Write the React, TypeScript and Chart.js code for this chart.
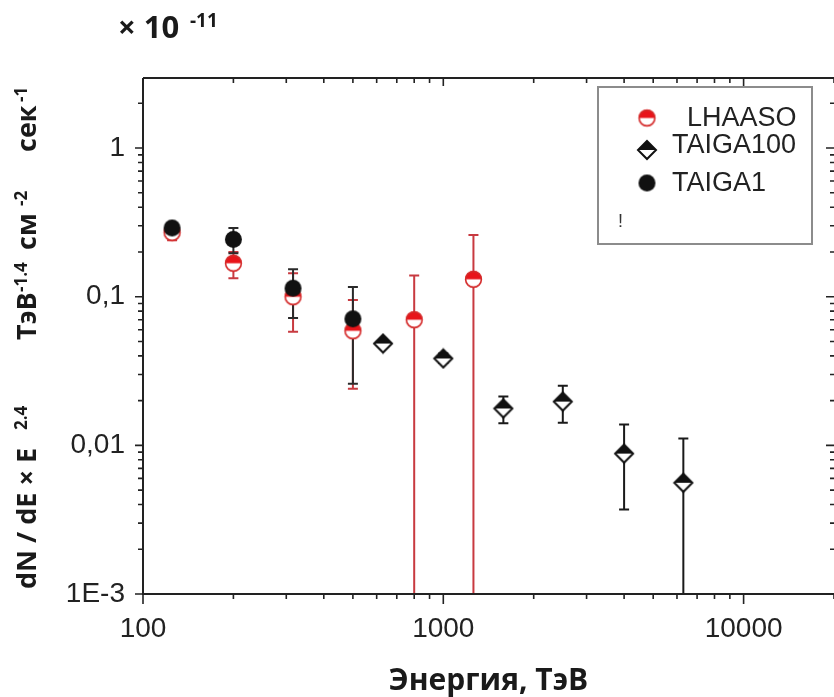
import React, { useEffect, useRef } from "react";
import { Chart, registerables } from "chart.js";

Chart.register(...registerables);

// ---------- data ----------
const lhaasoEnergy = [125, 200, 316, 500, 800, 1260];
const lhaasoFlux = [0.27, 0.168, 0.1, 0.059, 0.07, 0.131];
const lhaasoLow = [0.24, 0.133, 0.058, 0.024, 0.0001, 0.0001];
const lhaasoHigh = [0.3, 0.2, 0.144, 0.095, 0.139, 0.26];

const taiga100Energy = [630, 1000, 1585, 2500, 4000, 6300];
const taiga100Flux = [0.0484, 0.0384, 0.0177, 0.0197, 0.0088, 0.0056];
const taiga100Low = [0.046, 0.0358, 0.0141, 0.0142, 0.0037, 0.0001];
const taiga100High = [0.051, 0.0415, 0.0213, 0.0252, 0.0138, 0.0111];

const taiga1Energy = [125, 200, 316, 500];
const taiga1Flux = [0.29, 0.243, 0.114, 0.071];
const taiga1Low = [0.27, 0.196, 0.072, 0.026];
const taiga1High = [0.31, 0.29, 0.153, 0.116];

const seriesNames = ["LHAASO", "TAIGA100", "TAIGA1"];

const xMajorTicks = [100, 1000, 10000];
const xTickLabels = ["100", "1000", "10000"];
const yMajorTicks = [0.001, 0.01, 0.1, 1];
const yTickLabels = ["1E-3", "0,01", "0,1", "1"];

const xTitle = "Энергия, ТэВ";
const yTitleParts = [
  { t: "dN / dE × E", sup: false, at: 589 },
  { t: "2.4", sup: true, at: 430 },
  { t: "ТэВ", sup: false, at: 340 },
  { t: "-1.4", sup: true, at: 292 },
  { t: "см", sup: false, at: 250 },
  { t: "-2", sup: true, at: 206 },
  { t: "сек", sup: false, at: 152 },
  { t: "-1", sup: true, at: 102 },
];
const multiplierBase = "× 10";
const multiplierExp = "-11";

const X_MIN = 100;
const X_MAX = 20000;
const Y_MIN = 0.001;
const Y_MAX = 2.96;

// ---------- helpers ----------
const RED = "#e8141a";
const RED_BAR = "#c83a40";
const BLACK = "#111111";
const AXIS = "#222222";
const SANS = "'Liberation Sans', Arial, sans-serif";
const BOLD = "'Open Sans', 'Liberation Sans', sans-serif";

function makeHalfCircle(r: number) {
  const size = Math.ceil(2 * r + 4);
  const c = document.createElement("canvas");
  c.width = size;
  c.height = size;
  const g = c.getContext("2d")!;
  const cx = size / 2, cy = size / 2;
  g.beginPath();
  g.arc(cx, cy, r, 0, Math.PI * 2);
  g.fillStyle = "#ffffff";
  g.fill();
  g.beginPath();
  g.arc(cx, cy, r, Math.PI, Math.PI * 2);
  g.closePath();
  g.fillStyle = RED;
  g.fill();
  g.beginPath();
  g.arc(cx, cy, r - 0.6, 0, Math.PI * 2);
  g.lineWidth = 1.6;
  g.strokeStyle = "#d42a2a";
  g.stroke();
  return c;
}

function makeHalfDiamond(h: number) {
  const size = Math.ceil(2 * h + 4);
  const c = document.createElement("canvas");
  c.width = size;
  c.height = size;
  const g = c.getContext("2d")!;
  const cx = size / 2, cy = size / 2;
  g.beginPath();
  g.moveTo(cx, cy - h);
  g.lineTo(cx + h, cy);
  g.lineTo(cx, cy + h);
  g.lineTo(cx - h, cy);
  g.closePath();
  g.fillStyle = "#ffffff";
  g.fill();
  g.beginPath();
  g.moveTo(cx, cy - h);
  g.lineTo(cx + h, cy);
  g.lineTo(cx - h, cy);
  g.closePath();
  g.fillStyle = BLACK;
  g.fill();
  g.beginPath();
  g.moveTo(cx, cy - h);
  g.lineTo(cx + h, cy);
  g.lineTo(cx, cy + h);
  g.lineTo(cx - h, cy);
  g.closePath();
  g.lineWidth = 2;
  g.lineJoin = "miter";
  g.strokeStyle = BLACK;
  g.stroke();
  return c;
}

function makeDot(r: number) {
  const size = Math.ceil(2 * r + 4);
  const c = document.createElement("canvas");
  c.width = size;
  c.height = size;
  const g = c.getContext("2d")!;
  g.beginPath();
  g.arc(size / 2, size / 2, r, 0, Math.PI * 2);
  g.fillStyle = BLACK;
  g.fill();
  return c;
}

function logTicks(min: number, max: number) {
  const out: { value: number; major: boolean }[] = [];
  const e0 = Math.floor(Math.log10(min));
  const e1 = Math.ceil(Math.log10(max));
  for (let e = e0; e <= e1; e++) {
    for (let m = 1; m <= 9; m++) {
      const v = m * Math.pow(10, e);
      if (v >= min * 0.999 && v <= max * 1.001) out.push({ value: v, major: m === 1 });
    }
  }
  return out;
}

function pts(xs: number[], ys: number[]) {
  return xs.map((x, i) => ({ x, y: ys[i] }));
}

// ---------- plugins ----------
const errorBarPlugin = {
  id: "errorBars",
  beforeDatasetsDraw(chart: any) {
    const { ctx, chartArea: a, scales } = chart;
    const xs = scales.x, ys = scales.y;
    ctx.save();
    ctx.beginPath();
    ctx.rect(a.left, a.top, a.right - a.left, a.bottom - a.top);
    ctx.clip();
    [0, 1, 2].forEach((di) => {
      const ds = chart.data.datasets[di];
      ctx.strokeStyle = ds.barColor;
      ctx.lineWidth = 2;
      ds.data.forEach((p: any, i: number) => {
        const px = xs.getPixelForValue(p.x);
        const yl = ys.getPixelForValue(ds.errLow[i]);
        const yh = ys.getPixelForValue(ds.errHigh[i]);
        const cw = 5;
        ctx.beginPath();
        ctx.moveTo(px, yl);
        ctx.lineTo(px, yh);
        ctx.moveTo(px - cw, yh);
        ctx.lineTo(px + cw, yh);
        ctx.moveTo(px - cw, yl);
        ctx.lineTo(px + cw, yl);
        ctx.stroke();
      });
    });
    ctx.restore();
  },
};

const framePlugin = {
  id: "frame",
  afterDatasetsDraw(chart: any) {
    const { ctx, chartArea: a, scales } = chart;
    const xs = scales.x, ys = scales.y;
    ctx.save();
    ctx.strokeStyle = AXIS;
    ctx.lineWidth = 2;
    ctx.beginPath();
    ctx.moveTo(a.left, a.top);
    ctx.lineTo(a.right + 2, a.top);
    ctx.moveTo(a.left, a.top);
    ctx.lineTo(a.left, a.bottom);
    ctx.lineTo(a.right + 2, a.bottom);
    ctx.stroke();
    ctx.lineWidth = 1.6;
    ctx.beginPath();
    xs.ticks.forEach((t: any) => {
      const px = xs.getPixelForValue(t.value);
      const lb = t.major ? 10 : 5;
      const lt = t.major ? 8 : 5;
      ctx.moveTo(px, a.bottom);
      ctx.lineTo(px, a.bottom + lb);
      ctx.moveTo(px, a.top);
      ctx.lineTo(px, a.top + lt);
    });
    ys.ticks.forEach((t: any) => {
      const py = ys.getPixelForValue(t.value);
      const ll = t.major ? 8 : 5;
      const lr = t.major ? 8 : 4;
      ctx.moveTo(a.left, py);
      ctx.lineTo(a.left - ll, py);
      ctx.moveTo(a.right, py);
      ctx.lineTo(a.right - lr, py);
    });
    ctx.stroke();
    ctx.restore();
  },
};

const textPlugin = {
  id: "texts",
  afterDraw(chart: any) {
    const { ctx, chartArea: a } = chart;
    ctx.save();
    ctx.fillStyle = "#1a1a1a";
    // multiplier
    ctx.textBaseline = "alphabetic";
    ctx.textAlign = "left";
    ctx.font = `bold 31px ${BOLD}`;
    ctx.fillText(multiplierBase, 118, 38);
    ctx.font = `bold 19px ${BOLD}`;
    ctx.fillText(multiplierExp, 190, 27);
    // x title
    ctx.font = `bold 30px ${BOLD}`;
    ctx.textAlign = "center";
    ctx.fillText(xTitle, (a.left + a.right) / 2, 690);
    // y title
    ctx.textAlign = "left";
    yTitleParts.forEach((p) => {
      ctx.save();
      ctx.translate(p.sup ? 27 : 36, p.at);
      ctx.rotate(-Math.PI / 2);
      ctx.font = p.sup ? `bold 17px ${BOLD}` : `bold 27px ${BOLD}`;
      ctx.fillText(p.t, 0, 0);
      ctx.restore();
    });
    // legend
    const lx = 598, ly = 87, lw = 214, lh = 157;
    ctx.fillStyle = "#ffffff";
    ctx.fillRect(lx, ly, lw, lh);
    ctx.strokeStyle = "#8c8c8c";
    ctx.lineWidth = 2;
    ctx.strokeRect(lx, ly, lw, lh);
    const imgs = chart.data.datasets.map((d: any) => d.pointStyle);
    const rows = [
      { i: 0, my: 118, tx: 687, ty: 119 },
      { i: 1, my: 150, tx: 672, ty: 146 },
      { i: 2, my: 183, tx: 672, ty: 184 },
    ];
    ctx.font = `27px ${SANS}`;
    ctx.textAlign = "left";
    ctx.textBaseline = "middle";
    rows.forEach((r) => {
      const im = imgs[r.i];
      ctx.drawImage(im, 647 - im.width / 2, r.my - im.height / 2);
      ctx.fillStyle = "#222222";
      ctx.fillText(chart.data.datasets[r.i].label, r.tx, r.ty);
    });
    ctx.font = `18px ${SANS}`;
    ctx.fillStyle = "#333333";
    ctx.fillText("!", 618, 222);
    ctx.restore();
  },
};

export default function App() {
  const ref = useRef<HTMLCanvasElement | null>(null);
  useEffect(() => {
    if (!ref.current) return;
    const halfCircle = makeHalfCircle(8.5);
    const halfDiamond = makeHalfDiamond(9);
    const dot = makeDot(8.5);
    const xt = logTicks(X_MIN, X_MAX);
    const yt = logTicks(Y_MIN, Y_MAX);
    const chart = new Chart(ref.current, {
      type: "scatter",
      data: {
        datasets: [
          {
            label: seriesNames[0],
            data: pts(lhaasoEnergy, lhaasoFlux),
            pointStyle: halfCircle,
            pointRadius: 8,
            order: 2,
            errLow: lhaasoLow,
            errHigh: lhaasoHigh,
            barColor: RED_BAR,
          } as any,
          {
            label: seriesNames[1],
            data: pts(taiga100Energy, taiga100Flux),
            pointStyle: halfDiamond,
            pointRadius: 9,
            order: 1,
            errLow: taiga100Low,
            errHigh: taiga100High,
            barColor: "#1a1a1a",
          } as any,
          {
            label: seriesNames[2],
            data: pts(taiga1Energy, taiga1Flux),
            pointStyle: dot,
            pointRadius: 8,
            order: 0,
            errLow: taiga1Low,
            errHigh: taiga1High,
            barColor: "#2a2a2a",
          } as any,
        ],
      },
      options: {
        responsive: false,
        animation: false,
        devicePixelRatio: 1,
        layout: { autoPadding: false, padding: { top: 78, left: 0, right: 0, bottom: 0 } },
        plugins: { legend: { display: false }, tooltip: { enabled: false }, title: { display: false } },
        scales: {
          x: {
            type: "logarithmic",
            min: X_MIN,
            max: X_MAX,
            offset: false,
            grid: { display: false, drawTicks: false },
            border: { display: false },
            afterBuildTicks: (s: any) => {
              s.ticks = xt.map((t) => ({ ...t }));
            },
            afterFit: (s: any) => {
              s.height = 103;
              s.paddingLeft = 0;
              s.paddingRight = 0;
            },
            ticks: {
              autoSkip: false,
              maxRotation: 0,
              minRotation: 0,
              padding: 18,
              color: "#222222",
              font: { family: SANS, size: 28 },
              callback: (v: any) => {
                const k = xMajorTicks.findIndex((m) => Math.abs(m - v) / m < 1e-6);
                return k >= 0 ? xTickLabels[k] : "";
              },
            },
          },
          y: {
            type: "logarithmic",
            min: Y_MIN,
            max: Y_MAX,
            grid: { display: false, drawTicks: false },
            border: { display: false },
            afterBuildTicks: (s: any) => {
              s.ticks = yt.map((t) => ({ ...t }));
            },
            afterFit: (s: any) => {
              s.width = 143;
              s.paddingTop = 0;
              s.paddingBottom = 0;
            },
            ticks: {
              autoSkip: false,
              padding: 18,
              color: "#222222",
              font: { family: SANS, size: 28 },
              callback: (v: any) => {
                const k = yMajorTicks.findIndex((m) => Math.abs(m - v) / m < 1e-6);
                return k >= 0 ? yTickLabels[k] : "";
              },
            },
          },
        },
      } as any,
      plugins: [errorBarPlugin, framePlugin, textPlugin],
    });
    return () => chart.destroy();
  }, []);
  return (
    <div style={{ position: "fixed", left: 0, top: 0, width: 834, height: 697, background: "#fff", overflow: "hidden" }}>
      <canvas ref={ref} width={834} height={697} style={{ width: 834, height: 697, display: "block" }} />
    </div>
  );
}
